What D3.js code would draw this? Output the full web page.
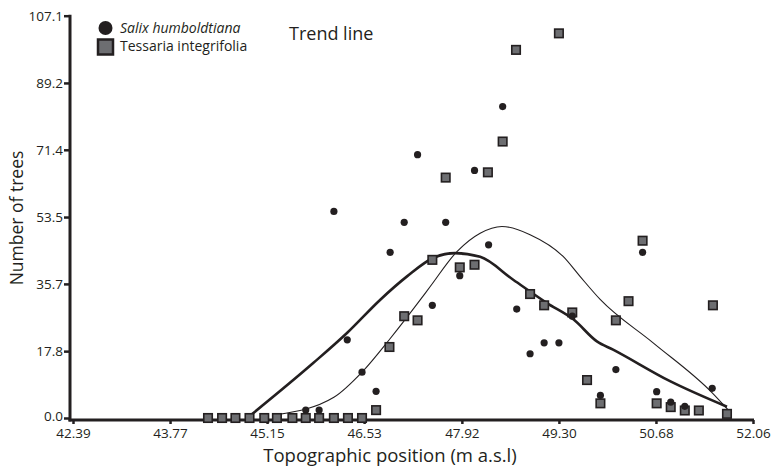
<!DOCTYPE html>
<html>
<head>
<meta charset="utf-8">
<script src="https://cdn.jsdelivr.net/npm/d3@7"></script>
<style>
  body { margin: 0; background: #fff; }
  svg { display: block; }
  text { font-family: "Open Sans", sans-serif; fill: #231f20; }
</style>
</head>
<body>
<svg width="772" height="469"></svg>
<script>
// tick labels as printed on the axes
const xTicks = [42.39, 43.77, 45.15, 46.53, 47.92, 49.30, 50.68, 52.06];
const yTicks = [0, 17.8, 35.7, 53.5, 71.4, 89.2, 107.1];

// Salix humboldtiana: [topographic position, number of trees]
const salix = [
    [45.70, 2.1], [45.89, 2.1], [46.10, 55.0], [46.29, 20.8], [46.50, 12.2],
    [46.70, 7.1], [46.90, 44.1], [47.10, 52.1], [47.29, 70.1], [47.50, 30.0],
    [47.69, 52.1], [47.89, 37.9], [48.10, 65.9], [48.30, 46.1], [48.50, 82.9],
    [48.70, 29.0], [48.89, 17.1], [49.09, 20.0], [49.30, 20.0], [49.49, 27.1],
    [49.89, 6.0], [50.11, 12.9], [50.49, 44.1], [50.69, 7.0], [50.89, 4.2],
    [51.09, 3.1], [51.48, 7.9]
];

// Tessaria integrifolia
const tessaria = [
    [44.31, 0], [44.51, 0], [44.70, 0], [44.90, 0], [45.11, 0], [45.29, 0],
    [45.51, 0], [45.70, 0], [45.89, 0], [46.10, 0], [46.30, 0], [46.50, 0],
    [46.70, 2.1], [46.89, 18.9], [47.10, 27.1], [47.29, 26.0], [47.50, 42.1],
    [47.69, 64.0], [47.89, 40.1], [48.10, 40.8], [48.29, 65.4], [48.50, 73.6],
    [48.69, 98.0], [48.89, 33.0], [49.09, 30.0], [49.30, 102.4], [49.49, 28.1],
    [49.70, 10.1], [49.89, 3.9], [50.11, 26.0], [50.29, 31.1], [50.49, 47.2],
    [50.69, 3.9], [50.89, 2.9], [51.09, 2.0], [51.29, 2.0], [51.49, 30.0],
    [51.69, 1.1]
];

// trend lines (thick = Salix, thin = Tessaria)
const salixTrend = [
    [44.90, 0.5], [45.81, 14.7], [46.29, 22.7], [46.76, 31.5], [47.14, 37.7],
    [47.51, 42.6], [47.82, 43.9], [48.18, 42.9], [48.65, 36.8], [49.13, 30.6],
    [49.51, 26.2], [49.84, 20.4], [50.07, 18.2], [50.88, 9.8], [51.69, 3.0]
];
const tessariaTrend = [
    [45.29, 0.9], [46.10, 5.5], [46.50, 12.2], [46.89, 20.9], [47.33, 31.5],
    [47.47, 35.0], [47.85, 44.3], [48.18, 49.2], [48.49, 51.0], [48.89, 48.8],
    [49.36, 43.0], [49.60, 37.7], [49.89, 31.5], [50.64, 20.0], [51.48, 6.7],
    [51.70, 2.3]
];

const svg = d3.select("svg"),
    axisX = 70,
    axisY = 420,
    ink = "#231f20";

const x = d3.scaleLinear().domain([42.39, 52.06]).range([73, 753]);
const y = d3.scaleLinear().domain([0, 107.1]).range([418, 15.7]);

// axes
const xAxis = svg.append("g")
    .attr("transform", `translate(0,${axisY})`)
    .call(d3.axisBottom(x).tickValues(xTicks).tickFormat(d3.format(".2f"))
        .tickSize(4).tickPadding(4).tickSizeOuter(0));

const yAxis = svg.append("g")
    .attr("transform", `translate(${axisX},0)`)
    .call(d3.axisLeft(y).tickValues(yTicks).tickFormat(d3.format(".1f"))
        .tickSize(6).tickPadding(1).tickSizeOuter(0));

[xAxis, yAxis].forEach(g => {
    g.select(".domain").remove();
    g.selectAll(".tick line").attr("stroke", ink).attr("stroke-width", 2.5);
    g.selectAll(".tick text").style("font-size", "13.5px").attr("fill", ink);
});
// keep "0.0" just clear of the first x label
yAxis.selectAll(".tick text").filter(d => d === 0).attr("dy", "0.2em");

svg.append("line")
    .attr("x1", axisX - 1.5).attr("x2", x(52.06) + 1)
    .attr("y1", axisY).attr("y2", axisY)
    .attr("stroke", ink).attr("stroke-width", 3);
svg.append("line")
    .attr("x1", axisX).attr("x2", axisX)
    .attr("y1", y(107.1) - 1).attr("y2", axisY + 1.5)
    .attr("stroke", ink).attr("stroke-width", 3);

svg.append("text")
    .attr("x", 390).attr("y", 462)
    .attr("text-anchor", "middle")
    .style("font-size", "18.5px")
    .text("Topographic position (m a.s.l)");

svg.append("text")
    .attr("transform", "translate(23,218) rotate(-90)")
    .attr("text-anchor", "middle")
    .style("font-size", "17.5px")
    .text("Number of trees");

// trend lines
const line = d3.line()
    .x(d => x(d[0]))
    .y(d => y(d[1]))
    .curve(d3.curveMonotoneX);

svg.append("path")
    .datum(salixTrend)
    .attr("d", line)
    .attr("fill", "none")
    .attr("stroke", ink)
    .attr("stroke-width", 2.6);

svg.append("path")
    .datum(tessariaTrend)
    .attr("d", line)
    .attr("fill", "none")
    .attr("stroke", ink)
    .attr("stroke-width", 1.1);

// points
const sq = 8.5;
svg.append("g")
    .selectAll("rect")
    .data(tessaria)
    .join("rect")
    .attr("x", d => x(d[0]) - sq / 2)
    .attr("y", d => y(d[1]) - sq / 2)
    .attr("width", sq)
    .attr("height", sq)
    .attr("fill", "#6d6e71")
    .attr("stroke", ink)
    .attr("stroke-width", 1.6);

svg.append("g")
    .selectAll("circle")
    .data(salix)
    .join("circle")
    .attr("cx", d => x(d[0]))
    .attr("cy", d => y(d[1]))
    .attr("r", 3.6)
    .attr("fill", ink);

// legend
const legend = svg.append("g");
legend.append("circle")
    .attr("cx", 105.5).attr("cy", 28)
    .attr("r", 7)
    .attr("fill", ink);
legend.append("rect")
    .attr("x", 98).attr("y", 39.5)
    .attr("width", 15).attr("height", 15)
    .attr("fill", "#6d6e71")
    .attr("stroke", ink)
    .attr("stroke-width", 2.5);
legend.append("text")
    .attr("x", 120).attr("y", 32.5)
    .style("font-size", "14px")
    .style("font-style", "italic")
    .text("Salix humboldtiana");
legend.append("text")
    .attr("x", 120).attr("y", 50.5)
    .style("font-size", "14px")
    .text("Tessaria integrifolia");

svg.append("text")
    .attr("x", 289).attr("y", 40)
    .style("font-size", "18px")
    .text("Trend line");
</script>
</body>
</html>
